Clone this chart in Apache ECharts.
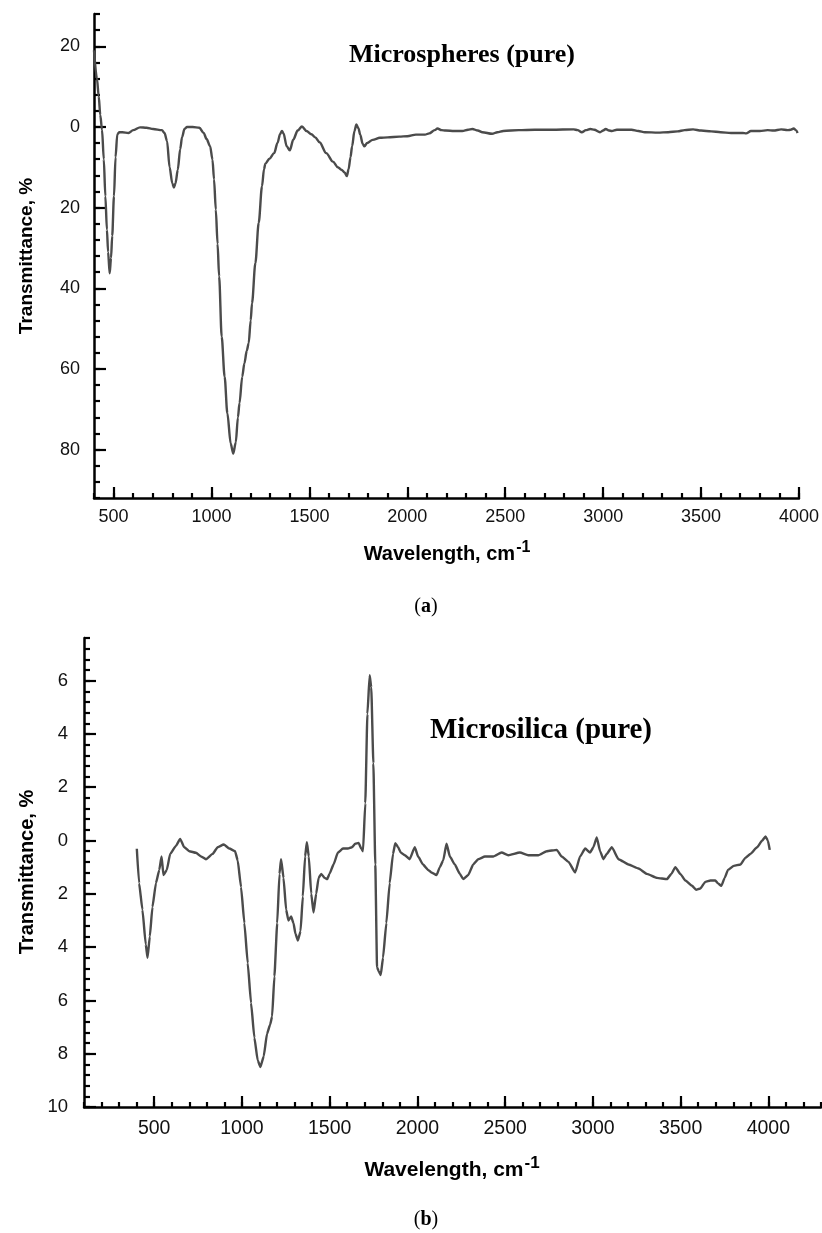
<!DOCTYPE html>
<html>
<head>
<meta charset="utf-8">
<script src="https://cdn.jsdelivr.net/npm/echarts@6/dist/echarts.min.js"></script>
<style>
html,body{margin:0;padding:0;background:#fff;}
#c{width:822px;height:1233px;}
</style>
</head>
<body>
<div id="c"></div>
<script>
// ---------- DATA ----------
const topWavenumber = [400,415,424,432,441,450,458,466,472,480,487,493,502,510,519,530,545,576,600,635,668,702,747,760,773,786,800,808,816,828,840,850,862,875,904,938,960,975,993,1005,1013,1022,1031,1039,1052,1067,1081,1098,1111,1124,1135,1143,1157,1168,1180,1190,1200,1207,1224,1241,1258,1268,1275,1296,1320,1337,1350,1360,1368,1384,1400,1418,1440,1462,1485,1510,1530,1552,1586,1620,1645,1663,1680,1691,1700,1710,1718,1730,1740,1750,1760,1772,1781,1795,1823,1860,1900,1959,2000,2044,2090,2112,2140,2154,2175,2196,2240,2281,2310,2332,2360,2383,2433,2460,2490,2569,2650,2738,2849,2870,2891,2912,2934,2955,2984,3000,3013,3030,3044,3070,3094,3145,3180,3213,3280,3332,3380,3416,3459,3500,3552,3600,3653,3690,3713,3730,3755,3800,3840,3870,3909,3942,3958,3973,3985,3993];
const topTransmittance = [-19,-12,-7.6,-3,0.7,8,17.2,25.5,31,36.3,32.5,27,17.2,7.5,1.8,1.3,1.3,1.5,0.8,0.1,0.2,0.5,0.8,1.5,3.5,10,14,15,14,10.6,5.5,2.5,0.5,0,0,0.2,1.5,3,4.8,8.1,13,20.5,29,37.1,52,61.9,71,78.5,81,78.2,72,68.5,61.9,58.6,55.5,53.6,48,43.7,33.8,23.8,14.7,10.5,9.1,7.9,6.5,4,1.8,1,1.6,4.8,5.8,3.1,0.9,-0.1,1,1.8,2.6,3.8,6.5,8.6,10,10.6,11.3,12.2,10.5,7.5,4.8,1,-0.6,0.3,2,4.2,4.8,4,3.2,2.7,2.6,2.4,2.3,1.9,1.9,1.6,0.8,0.4,0.8,0.9,1,1,0.7,0.5,0.9,1.3,1.7,1.3,1,0.8,0.7,0.7,0.6,0.8,1.3,0.8,0.5,0.7,1.3,0.9,0.5,0.9,1,0.7,0.7,0.7,1,1.3,1.4,1.3,1.1,0.8,0.6,0.9,1.1,1.3,1.5,1.5,1.5,1.6,1,1,0.8,0.9,0.6,0.8,0.7,0.4,0.8,1.5];

const bottomWavenumber = [401,414,433,452,462,475,490,510,529,542,553,572,591,624,648,671,700,738,767,795,833,862,896,928,961,976,995,1014,1033,1052,1071,1090,1105,1124,1143,1161,1172,1185,1201,1214,1223,1237,1252,1265,1280,1294,1305,1319,1334,1347,1360,1370,1381,1395,1408,1423,1437,1452,1471,1486,1499,1522,1547,1576,1604,1627,1646,1665,1680,1690,1703,1715,1728,1737,1749,1760,1770,1779,1791,1804,1823,1842,1861,1874,1890,1905,1928,1956,1985,2004,2032,2061,2080,2109,2128,2147,2166,2185,2213,2242,2261,2289,2318,2347,2385,2432,2480,2518,2584,2632,2689,2737,2794,2822,2861,2899,2927,2956,2984,3003,3022,3041,3060,3079,3108,3146,3203,3260,3308,3365,3422,3447,3470,3498,3527,3565,3588,3612,3641,3670,3698,3711,3732,3751,3770,3803,3841,3869,3898,3936,3965,3984,3997,4008];
const bottomTransmittance = [0.31,1.6,2.6,3.9,4.4,3.6,2.5,1.6,1.1,0.6,1.3,1.1,0.5,0.2,-0.06,0.25,0.4,0.46,0.6,0.7,0.5,0.25,0.15,0.3,0.4,0.75,1.75,3.1,4.6,6.1,7.4,8.25,8.5,8.1,7.25,6.9,6.6,5.1,3.1,1.25,0.7,1.4,2.6,3,2.85,3.1,3.5,3.75,3.4,2.1,0.6,0.06,0.6,2,2.7,2,1.4,1.25,1.4,1.45,1.25,0.9,0.45,0.3,0.3,0.25,0.12,0.09,0.3,0.4,-1.4,-4.75,-6.2,-5.75,-2.9,0.9,4.75,4.9,5.05,4.4,3.1,1.6,0.5,0.1,0.25,0.45,0.55,0.7,0.25,0.6,0.9,1.1,1.2,1.3,1,0.75,0.12,0.6,0.9,1.25,1.45,1.3,0.9,0.7,0.6,0.6,0.45,0.55,0.45,0.55,0.55,0.4,0.35,0.6,0.8,1.2,0.6,0.3,0.45,0.25,-0.12,0.4,0.7,0.5,0.25,0.7,0.9,1.05,1.25,1.4,1.45,1.25,1,1.25,1.5,1.7,1.85,1.8,1.55,1.5,1.5,1.6,1.7,1.4,1.1,0.95,0.9,0.65,0.5,0.25,0,-0.15,0,0.35];

const topXTicks = [500,1000,1500,2000,2500,3000,3500,4000];
const topYTicks = [-20,0,20,40,60,80];
const bottomXTicks = [500,1000,1500,2000,2500,3000,3500,4000];
const bottomYTicks = [-6,-4,-2,0,2,4,6,8,10];

const topTitle = 'Microspheres (pure)';
const bottomTitle = 'Microsilica (pure)';
const xTitle = 'Wavelength, cm';
const xTitleSup = '-1';
const yTitle = 'Transmittance, %';

// ---------- CHART ----------
const zip = (a, b) => a.map((v, i) => [v, b[i]]);
const SANS = 'Liberation Sans, Arial, sans-serif';
const SERIF = 'Liberation Serif, Times New Roman, serif';
const LINE = {show: true, onZero: false, lineStyle: {color: '#000', width: 2.5}};
const noLine = {show: false, onZero: false};

function majorX(grid, min, max, ticks, fs, margin) {
  return {type: 'value', gridIndex: grid, min: min, max: max, position: 'bottom',
    axisLine: LINE, splitLine: {show: false},
    axisTick: {show: true, inside: true, length: 11, customValues: ticks, lineStyle: {color: '#000', width: 2.2}},
    axisLabel: {show: true, customValues: ticks, fontSize: fs, fontFamily: SANS, color: '#111', margin: margin,
      formatter: v => String(Math.round(v))}};
}
function minorX(grid, min, max, interval) {
  return {type: 'value', gridIndex: grid, min: min, max: max, interval: interval, position: 'bottom',
    axisLine: noLine, splitLine: {show: false}, axisLabel: {show: false},
    axisTick: {show: true, inside: true, length: 5, lineStyle: {color: '#000', width: 2.2}}};
}
function majorY(grid, min, max, ticks, fs, margin) {
  return {type: 'value', gridIndex: grid, min: min, max: max, inverse: true, position: 'left',
    axisLine: LINE, splitLine: {show: false},
    axisTick: {show: true, inside: true, length: 12, customValues: ticks, lineStyle: {color: '#000', width: 2.2}},
    axisLabel: {show: true, customValues: ticks, fontSize: fs, fontFamily: SANS, color: '#111', margin: margin,
      formatter: v => String(Math.abs(Math.round(v)))}};
}
function minorY(grid, min, max, interval) {
  return {type: 'value', gridIndex: grid, min: min, max: max, interval: interval, inverse: true, position: 'left',
    axisLine: noLine, splitLine: {show: false}, axisLabel: {show: false},
    axisTick: {show: true, inside: true, length: 6, lineStyle: {color: '#000', width: 2.2}}};
}

const chart = echarts.init(document.getElementById('c'), null, {renderer: 'canvas'});
chart.setOption({
  backgroundColor: '#fff',
  animation: false,
  grid: [
    {left: 94, top: 14, width: 706, height: 484},
    {left: 84, top: 638, width: 737, height: 469}
  ],
  xAxis: [
    majorX(0, 400, 4000, topXTicks, 18, 10),
    minorX(0, 400, 4000, 100),
    majorX(1, 100, 4300, bottomXTicks, 19.5, 12),
    minorX(1, 100, 4300, 100)
  ],
  yAxis: [
    majorY(0, -28, 92, topYTicks, 18, 14),
    minorY(0, -28, 92, 4),
    majorY(1, -7.6, 10, bottomYTicks, 18.5, 16),
    minorY(1, -7.6, 10, 0.4)
  ],
  series: [
    {type: 'line', xAxisIndex: 0, yAxisIndex: 0, data: zip(topWavenumber, topTransmittance),
      showSymbol: false, smooth: 0.3, smoothMonotone: 'x', lineStyle: {color: '#4b4b4b', width: 2.4}},
    {type: 'line', xAxisIndex: 2, yAxisIndex: 2, data: zip(bottomWavenumber, bottomTransmittance),
      showSymbol: false, smooth: 0.15, smoothMonotone: 'x', lineStyle: {color: '#4b4b4b', width: 2.4}}
  ],
  graphic: [
    {type: 'text', x: 462, y: 55, style: {text: topTitle, font: 'bold 26px ' + SERIF, fill: '#000', align: 'center', verticalAlign: 'middle'}},
    {type: 'text', x: 541, y: 731, style: {text: bottomTitle, font: 'bold 29px ' + SERIF, fill: '#000', align: 'center', verticalAlign: 'middle'}},
    {type: 'text', x: 447, y: 552, style: {text: '{t|' + xTitle + '}{s|' + xTitleSup + '}', align: 'center', verticalAlign: 'middle',
      rich: {t: {fontSize: 20, fontWeight: 'bold', fontFamily: SANS, fill: '#000', verticalAlign: 'bottom'},
             s: {fontSize: 16, fontWeight: 'bold', fontFamily: SANS, fill: '#000', verticalAlign: 'bottom', padding: [0, 0, 9, 1]}}}},
    {type: 'text', x: 452, y: 1168, style: {text: '{t|' + xTitle + '}{s|' + xTitleSup + '}', align: 'center', verticalAlign: 'middle',
      rich: {t: {fontSize: 21, fontWeight: 'bold', fontFamily: SANS, fill: '#000', verticalAlign: 'bottom'},
             s: {fontSize: 17, fontWeight: 'bold', fontFamily: SANS, fill: '#000', verticalAlign: 'bottom', padding: [0, 0, 9, 1]}}}},
    {type: 'text', x: 27, y: 256, rotation: Math.PI / 2, style: {text: yTitle, font: 'bold 19px ' + SANS, fill: '#000', align: 'center', verticalAlign: 'middle'}},
    {type: 'text', x: 27, y: 872, rotation: Math.PI / 2, style: {text: yTitle, font: 'bold 20px ' + SANS, fill: '#000', align: 'center', verticalAlign: 'middle'}},
    {type: 'text', x: 426, y: 607, style: {text: '({b|a})', font: '20px ' + SERIF, fill: '#000', align: 'center', verticalAlign: 'middle',
      rich: {b: {fontSize: 20, fontWeight: 'bold', fontFamily: SERIF, fill: '#000'}}}},
    {type: 'text', x: 426, y: 1220, style: {text: '({b|b})', font: '20px ' + SERIF, fill: '#000', align: 'center', verticalAlign: 'middle',
      rich: {b: {fontSize: 20, fontWeight: 'bold', fontFamily: SERIF, fill: '#000'}}}}
  ]
});
</script>
</body>
</html>
